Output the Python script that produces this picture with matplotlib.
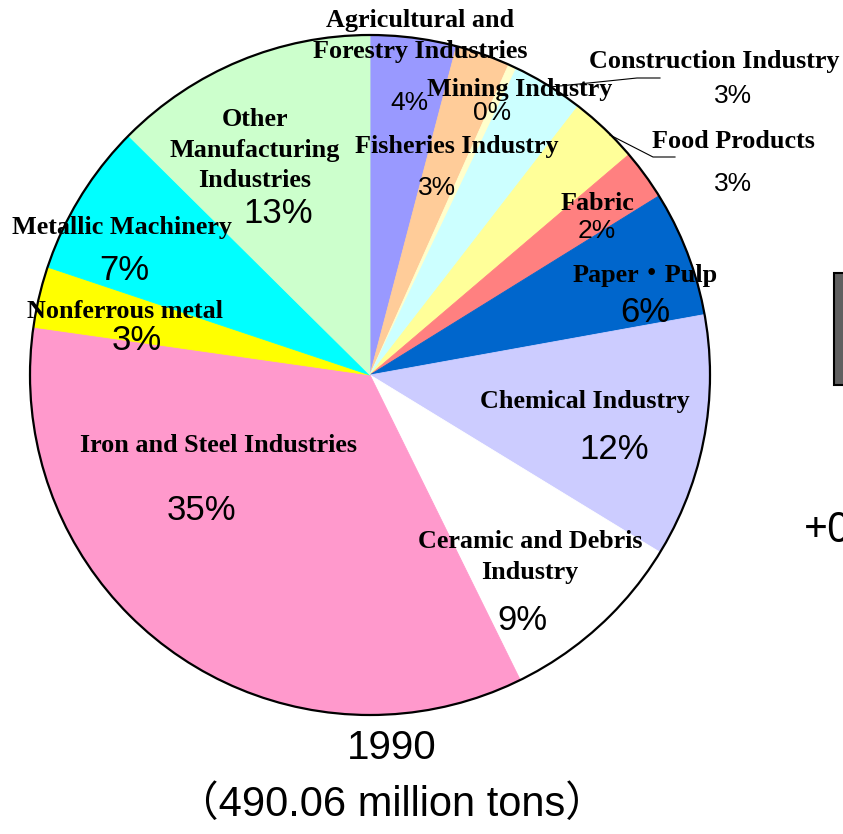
import matplotlib
matplotlib.use('Agg')
import matplotlib.pyplot as plt
from matplotlib.patches import Circle, Rectangle

# Share of industrial waste by industry, 1990 (percent of total)
industries = [
    'Agricultural and\nForestry Industries',
    'Fisheries Industry',
    'Mining Industry',
    'Construction Industry',
    'Food Products',
    'Fabric',
    'Paper・Pulp',
    'Chemical Industry',
    'Ceramic and Debris\nIndustry',
    'Iron and Steel Industries',
    'Nonferrous metal',
    'Metallic Machinery',
    'Other\nManufacturing\nIndustries',
]
shares = [4.1, 2.6, 0.4, 3.4, 3.3, 2.4, 6.0, 11.6, 9.0, 34.6, 2.9, 7.3, 12.6]
colors = ['#9999FF', '#FFCC99', '#FFFFCC', '#CCFFFF', '#FFFF99', '#FF8080',
          '#0066CC', '#CCCCFF', '#FFFFFF', '#FF99CC', '#FFFF00', '#00FFFF',
          '#CCFFCC']
year_label = '1990'
total_label = '（490.06 million tons）'

W, H = 843, 834
CX, CY, R = 370, 375, 340   # pie centre / radius, pixels from top-left

# name position, percent position, percent font size (pixel coords, top-down)
label_layout = [
    ((420, 36), (409, 103), 19),
    ((457, 146), (437, 188), 19),
    ((520, 89), (492, 113), 19),
    ((714, 61), (733, 96), 19),
    ((733, 141), (733, 184), 19),
    ((597, 203), (597, 231), 19),
    ((645, 275), (645, 312), 25),
    ((585, 401), (614, 449), 25),
    ((530, 557), (522, 621), 25),
    ((218, 445), (201, 511), 25),
    ((125, 311), (137, 340), 25),
    ((122, 227), (124, 270), 25),
    ((255, 150), (278, 213), 25),
]

# leader lines for the two labels placed outside the pie
leaders = {
    3: [(550, 87), (637, 78), (660, 78)],
    4: [(610, 135), (653, 157), (675, 157)],
}

fig = plt.figure(figsize=(W / 100, H / 100), dpi=100)
ax = fig.add_axes([0, 0, 1, 1])

wedges, _ = ax.pie(shares, colors=colors, startangle=90, counterclock=False,
                   center=(CX, H - CY), radius=R)
for w in wedges:
    # edge in the fill colour hides hairline seams between wedges
    w.set_edgecolor(w.get_facecolor())
    w.set_linewidth(0.6)
ax.add_patch(Circle((CX, H - CY), R, fill=False, edgecolor='black',
                    linewidth=1.6, zorder=3))

serif = ['Liberation Serif', 'Noto Sans CJK JP']
sans = ['Liberation Sans', 'Noto Sans CJK JP']

for i, name in enumerate(industries):
    (nx, ny), (px, py), psize = label_layout[i]
    ax.text(nx, H - ny, name, ha='center', va='center', fontsize=18.8,
            fontweight='bold', family=serif, linespacing=1.42, zorder=5)
    ax.text(px, H - py, f'{shares[i]:.0f}%', ha='center', va='center',
            fontsize=psize, family=sans, zorder=5)

for pts in leaders.values():
    xs = [p[0] for p in pts]
    ys = [H - p[1] for p in pts]
    ax.plot(xs, ys, color='black', linewidth=0.8, zorder=4)

ax.text(392, H - 748, year_label, ha='center', va='center', fontsize=29,
        family=sans)
ax.text(392, H - 805, total_label, ha='center', va='center', fontsize=30,
        family=sans)

# edge of the neighbouring panel
ax.add_patch(Rectangle((834, H - 385), 40, 112, facecolor='#606060',
                       edgecolor='black', linewidth=1.5, zorder=2))
ax.text(804, H - 531, '+0', ha='left', va='center', fontsize=30,
        family='Noto Sans')

ax.set_xlim(0, W)
ax.set_ylim(0, H)
ax.set_aspect('equal')
ax.axis('off')

fig.savefig('out.png', dpi=100)
